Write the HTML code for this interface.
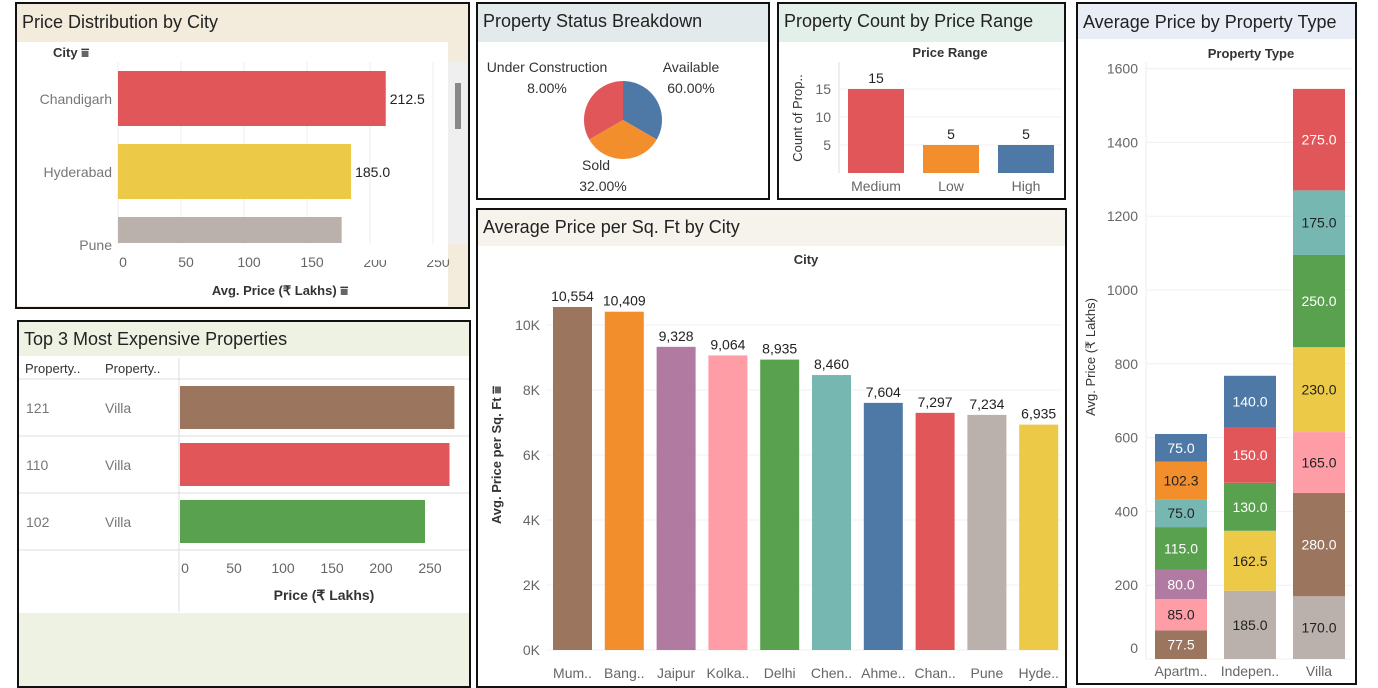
<!DOCTYPE html>
<html><head><meta charset="utf-8">
<style>
body{margin:0;width:1378px;height:688px;background:#fff;font-family:"Liberation Sans",sans-serif;overflow:hidden;position:relative}
.p{position:absolute;border:2px solid #111;box-sizing:border-box}
.t{position:absolute;left:0;right:0;top:0;font-size:18px;color:#222;padding-left:5px;box-sizing:border-box}
svg{position:absolute;left:0;top:0}
</style></head><body>
<div class="p" style="left:15px;top:2px;width:455px;height:307px;background:#f3ecdc"><div class="t" style="height:38px;line-height:36px">Price Distribution by City</div></div>
<div class="p" style="left:17px;top:320px;width:454px;height:368px;background:#eef2e3"><div class="t" style="height:34px;line-height:34px">Top 3 Most Expensive Properties</div></div>
<div class="p" style="left:476px;top:2px;width:294px;height:198px"><div class="t" style="height:38px;line-height:34px;background:#e3eaec">Property Status Breakdown</div></div>
<div class="p" style="left:777px;top:2px;width:289px;height:198px"><div class="t" style="height:38px;line-height:34px;background:#e3efe9">Property Count by Price Range</div></div>
<div class="p" style="left:476px;top:208px;width:591px;height:480px"><div class="t" style="height:36px;line-height:34px;background:#f6f2ec">Average Price per Sq. Ft by City</div></div>
<div class="p" style="left:1076px;top:2px;width:281px;height:683px"><div class="t" style="height:35px;line-height:36px;background:#e9edf5">Average Price by Property Type</div></div>
<svg id="s" width="1378" height="688" font-family="Liberation Sans, sans-serif"></svg>
<script>
const cityCats=["Chandigarh","Hyderabad","Pune"];
const cityVals=[212.5,185.0,177.5];
const topIds=["121","110","102"];
const topTypes=["Villa","Villa","Villa"];
const topVals=[280,275,250];
const statusCats=["Available","Sold","Under Construction"];
const statusVals=[60,32,8];
const statusSliceSizes=[1,1,1];
const rangeCats=["Medium","Low","High"];
const rangeVals=[15,5,5];
const sqCats=["Mum..","Bang..","Jaipur","Kolka..","Delhi","Chen..","Ahme..","Chan..","Pune","Hyde.."];
const sqVals=[10554,10409,9328,9064,8935,8460,7604,7297,7234,6935];
const typeCats=["Apartm..","Indepen..","Villa"];
const typeSegs=[
 [["Brown",77.5],["Pink",85],["Purple",80],["Green",115],["Teal",75],["Orange",102.3],["Blue",75]],
 [["Gray",185],["Yellow",162.5],["Green",130],["Red",150],["Blue",140]],
 [["Gray",170],["Brown",280],["Pink",165],["Yellow",230],["Green",250],["Teal",175],["Red",275]]
];
const C={Brown:"#9c755f",Orange:"#f28e2b",Purple:"#b07aa1",Pink:"#ff9da7",Green:"#59a14f",Teal:"#76b7b2",Blue:"#4e79a7",Red:"#e15759",Gray:"#bab0ac",Yellow:"#edc948"};
const darkText={Brown:1,Purple:1,Green:1,Blue:1,Red:1};
const S=document.getElementById('s');
function el(tag,a,txt,name){const e=document.createElementNS('http://www.w3.org/2000/svg',tag);for(const k in a)e.setAttribute(k,a[k]);if(txt!==undefined)e.textContent=txt;


S.appendChild(e);return e;}
function fmt(v){return v.toLocaleString('en-US');}

// Panel 1
el('rect',{x:17,y:42,width:431,height:264,fill:'#fff'},undefined,'plot-bg');
el('rect',{x:448,y:62,width:19,height:182,fill:'#efefef'},undefined,'scroll-track');
el('rect',{x:455,y:83,width:6,height:46,fill:'#888'},undefined,'scroll-thumb');
el('text',{x:53,y:57,'font-size':13,'font-weight':'bold',fill:'#333'},'City ⩸','city-header');
const x1=v=>118+v*1.26;
[0,50,100,150,200,250].forEach(t=>{el('line',{x1:x1(t),x2:x1(t),y1:62,y2:244,stroke:'#eee'},undefined,'gridline');el('text',{x:x1(t)+5,y:267,'font-size':14,fill:'#666','text-anchor':'middle'},t,'x-tick');});
cityCats.forEach((c,i)=>{const y=71+i*73;const h=i==2?26:55;
el('rect',{x:118,y:y,width:x1(cityVals[i])-118,height:h,fill:[C.Red,C.Yellow,C.Gray][i]},undefined,'bar-'+c.toLowerCase());
el('text',{x:112,y:y+33,'font-size':14,fill:'#777','text-anchor':'end'},c,'city-label');
if(i<2)el('text',{x:x1(cityVals[i])+4,y:y+33,'font-size':14,fill:'#222'},cityVals[i].toFixed(1),'value-label');});
el('rect',{x:340,y:244,width:108,height:16,fill:'#fff'},undefined,'clip');
el('text',{x:280,y:295,'font-size':13,'font-weight':'bold',fill:'#333','text-anchor':'middle'},'Avg. Price (₹ Lakhs) ⩸','x-axis-title');

// Panel 2
el('rect',{x:19,y:356,width:450,height:257,fill:'#fff'},undefined,'table-bg');
el('text',{x:25,y:373,'font-size':13,fill:'#333'},'Property..','col-header');
el('text',{x:105,y:373,'font-size':13,fill:'#333'},'Property..','col-header');
el('line',{x1:179,x2:179,y1:358,y2:612,stroke:'#ddd'},undefined,'divider');
[379,436,493,550].forEach(y=>el('line',{x1:19,x2:469,y1:y,y2:y,stroke:'#ddd'},undefined,'row-line'));
const x2=v=>180+v*0.98;
topIds.forEach((id,i)=>{const y=386+i*57;
el('rect',{x:180,y:y,width:x2(topVals[i])-180,height:43,fill:[C.Brown,C.Red,C.Green][i]},undefined,'bar-'+id);
el('text',{x:26,y:y+27,'font-size':14,fill:'#777'},id,'property-id');
el('text',{x:105,y:y+27,'font-size':14,fill:'#777'},topTypes[i],'property-type');});
[0,50,100,150,200,250].forEach(t=>el('text',{x:x2(t)+5,y:573,'font-size':14,fill:'#666','text-anchor':'middle'},t,'x-tick'));
el('text',{x:324,y:600,'font-size':14,'font-weight':'bold',fill:'#333','text-anchor':'middle'},'Price (₹ Lakhs)','x-axis-title');

// Panel 3 pie
const cx=623,cy=120,r=39;let a0=0;const tot=statusSliceSizes.reduce((a,b)=>a+b,0);
statusSliceSizes.forEach((v,i)=>{const a1=a0+v/tot*2*Math.PI;const p=(a)=>[cx+r*Math.sin(a),cy-r*Math.cos(a)];const [sx,sy]=p(a0),[ex,ey]=p(a1);
el('path',{d:`M${cx},${cy}L${sx},${sy}A${r},${r} 0 ${a1-a0>Math.PI?1:0} 1 ${ex},${ey}Z`,fill:[C.Blue,C.Orange,C.Red][i]},undefined,'slice-'+statusCats[i].toLowerCase().replace(/ /g,'-'));a0=a1;});
const pl=[[691,72,691,93],[596,170,603,191],[547,72,547,93]];
statusCats.forEach((c,i)=>{el('text',{x:pl[i][0],y:pl[i][1],'font-size':14,fill:'#333','text-anchor':'middle'},c,'slice-label');el('text',{x:pl[i][2],y:pl[i][3],'font-size':14,fill:'#333','text-anchor':'middle'},statusVals[i].toFixed(2)+'%','slice-value');});

// Panel 4
el('text',{x:950,y:57,'font-size':13,'font-weight':'bold',fill:'#333','text-anchor':'middle'},'Price Range','chart-header');
const y4=v=>173-v*5.6;
[5,10,15].forEach(t=>{el('line',{x1:840,x2:1062,y1:y4(t),y2:y4(t),stroke:'#f0f0f0'},undefined,'gridline');el('text',{x:831,y:y4(t)+5,'font-size':14,fill:'#666','text-anchor':'end'},t,'y-tick');});
el('line',{x1:839,x2:839,y1:62,y2:173,stroke:'#ddd'},undefined,'y-axis');
el('text',{transform:'translate(802,118) rotate(-90)','font-size':13,fill:'#333','text-anchor':'middle'},'Count of Prop..','y-axis-title');
rangeCats.forEach((c,i)=>{const x=848+i*75;
el('rect',{x:x,y:y4(rangeVals[i]),width:56,height:173-y4(rangeVals[i]),fill:[C.Red,C.Orange,C.Blue][i]},undefined,'bar-'+c.toLowerCase());
el('text',{x:x+28,y:y4(rangeVals[i])-6,'font-size':14,fill:'#222','text-anchor':'middle'},rangeVals[i],'value-label');
el('text',{x:x+28,y:191,'font-size':14,fill:'#666','text-anchor':'middle'},c,'category-label');});

// Panel 5
el('text',{x:806,y:264,'font-size':13,'font-weight':'bold',fill:'#333','text-anchor':'middle'},'City','chart-header');
const y5=v=>650-v*0.0325;
[0,2000,4000,6000,8000,10000].forEach(t=>{el('line',{x1:546,x2:1062,y1:y5(t),y2:y5(t),stroke:'#f0f0f0'},undefined,'gridline');el('text',{x:540,y:y5(t)+5,'font-size':14,fill:'#666','text-anchor':'end'},(t/1000)+'K','y-tick');});
el('text',{transform:'translate(501,455) rotate(-90)','font-size':13,'font-weight':'bold',fill:'#333','text-anchor':'middle'},'Avg. Price per Sq. Ft ⩸','y-axis-title');
const sqCol=["Brown","Orange","Purple","Pink","Green","Teal","Blue","Red","Gray","Yellow"];
sqCats.forEach((c,i)=>{const x=553+i*51.8;
el('rect',{x:x,y:y5(sqVals[i]),width:39,height:650-y5(sqVals[i]),fill:C[sqCol[i]]},undefined,'bar-'+i);
el('text',{x:x+19.5,y:y5(sqVals[i])-6,'font-size':14,fill:'#222','text-anchor':'middle'},fmt(sqVals[i]),'value-label');
el('text',{x:x+19.5,y:678,'font-size':14,fill:'#666','text-anchor':'middle'},c,'category-label');});

// Panel 6
el('text',{x:1251,y:58,'font-size':13,'font-weight':'bold',fill:'#333','text-anchor':'middle'},'Property Type','chart-header');
const y6=v=>659-v*0.369;
[0,200,400,600,800,1000,1200,1400,1600].forEach(t=>{el('line',{x1:1146,x2:1352,y1:y6(t),y2:y6(t),stroke:'#f0f0f0'},undefined,'gridline');el('text',{x:1138,y:t==0?y6(t)-6:y6(t)+5,'font-size':14,fill:'#666','text-anchor':'end'},t,'y-tick');});
el('line',{x1:1146,x2:1146,y1:62,y2:659,stroke:'#eee'},undefined,'y-axis');
el('text',{transform:'translate(1095,357) rotate(-90)','font-size':13,fill:'#333','text-anchor':'middle'},'Avg. Price (₹ Lakhs)','y-axis-title');
typeCats.forEach((c,i)=>{const x=1155+i*69;let acc=0;
typeSegs[i].forEach(([col,v])=>{const yt=y6(acc+v),yb=y6(acc);
el('rect',{x:x,y:yt,width:52,height:yb-yt,fill:C[col]},undefined,'segment-'+col.toLowerCase());
el('text',{x:x+26,y:(yt+yb)/2+5,'font-size':14,fill:darkText[col]?'#fff':'#222','text-anchor':'middle'},v.toFixed(1),'segment-label');acc+=v;});
el('text',{x:x+26,y:676,'font-size':14,fill:'#666','text-anchor':'middle'},c,'category-label');});
</script>
</body></html>
